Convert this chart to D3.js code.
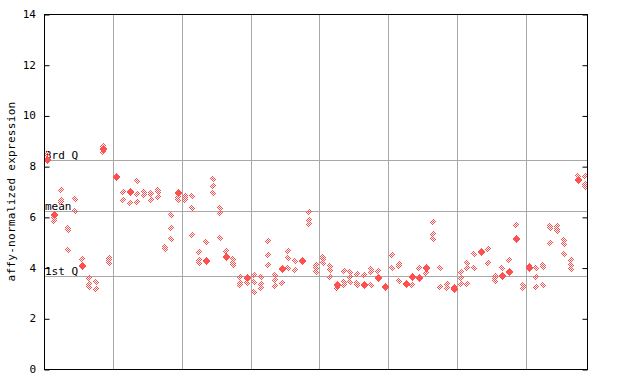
<!DOCTYPE html>
<html><head><meta charset="utf-8">
<script src="https://cdn.jsdelivr.net/npm/d3@7"></script>
<style>body{margin:0;background:#fff}svg{display:block}</style>
</head><body><svg id="c" width="640" height="384"></svg>
<script>
// one array of values per sample column (repeated values = coincident samples)
const sampleValues = [
  [8.47, 8.24, 8.24], [6.07, 6.07, 5.94, 5.83], [7.05, 6.65, 6.6], [5.55, 5.48, 4.69], [6.69, 6.23],
  [4.34, 4.07, 4.07], [3.6, 3.35, 3.22], [3.44, 3.15], [8.79, 8.66, 8.66, 8.57], [4.36, 4.28, 4.2],
  [7.58, 7.58, 7.52], [7.0, 6.66], [7.0, 7.0, 6.56], [7.4, 6.9, 6.57], [7.0, 6.85],
  [6.96, 6.9, 6.66], [7.06, 7.0, 6.77], [4.8, 4.72], [6.07, 5.55, 5.11], [6.95, 6.95, 6.8, 6.66],
  [6.82, 6.74, 6.66], [6.82, 6.33, 5.28], [4.6, 4.3, 4.19], [5.0, 4.27, 4.27], [7.48, 7.22, 6.96],
  [6.33, 6.16, 5.15], [4.67, 4.43, 4.43], [4.32, 4.2, 4.1], [3.61, 3.38, 3.31], [3.57, 3.57, 3.38],
  [3.7, 3.44, 3.02], [3.61, 3.35, 3.18], [5.05, 4.5, 4.1], [3.7, 3.5, 3.28], [3.94, 3.94, 3.38],
  [4.65, 4.36, 4.0], [4.26, 3.9], [4.27, 4.27], [6.18, 5.87, 5.72], [4.1, 3.97, 3.84],
  [4.4, 4.32, 4.19], [4.06, 3.9, 3.64], [3.31, 3.31, 3.18], [3.86, 3.42, 3.31], [3.84, 3.64, 3.42],
  [3.73, 3.38, 3.31], [3.7, 3.31, 3.31], [3.93, 3.84, 3.31], [3.88, 3.6, 3.6], [3.25, 3.25],
  [4.5, 3.97], [4.14, 4.06, 3.47], [3.34, 3.34], [3.64, 3.64, 3.31], [3.97, 3.57, 3.57],
  [3.97, 3.97, 3.77], [5.78, 5.32, 5.11], [3.97, 3.25], [3.34, 3.21], [3.25, 3.15, 3.15],
  [3.81, 3.57, 3.34], [4.2, 3.97, 3.34], [4.53, 3.97], [4.62, 4.62], [4.72, 4.17],
  [3.68, 3.57, 3.47], [3.97, 3.67, 3.67], [4.3, 3.84, 3.84], [5.67, 5.13, 5.13], [3.31, 3.18],
  [4.06, 3.97, 3.97], [3.97, 3.61, 3.22], [4.1, 4.04, 3.31], [5.65, 5.57, 4.96], [5.65, 5.52, 5.44],
  [5.09, 4.92, 4.53], [4.3, 4.1, 3.94], [7.62, 7.45, 7.45], [7.61, 7.28, 7.19]
];
const groupSize = 10;
const yTicks = [0, 2, 4, 6, 8, 10, 12, 14];
const refLines = [{label: "3rd Q", value: 8.23}, {label: "mean", value: 6.23}, {label: "1st Q", value: 3.65}];
const yTitle = "affy-normalized expression";

const svg = d3.select("#c");
const L = 44, R = 587, T = 14, B = 369;
const x = d3.scaleBand().domain(d3.range(sampleValues.length)).range([L, R + 1]);
const y = d3.scaleLinear().domain([0, 14]).range([B, T]);
const font = "'DejaVu Sans Mono', monospace";
const red = "#ff5050", grid = "#a8a8a8";

const defs = svg.append("defs");
const pat = defs.append("pattern").attr("id", "chk").attr("patternUnits", "userSpaceOnUse")
  .attr("width", 2).attr("height", 2);
pat.append("rect").attr("x", 0).attr("y", 0).attr("width", 1).attr("height", 1).attr("fill", red);
pat.append("rect").attr("x", 1).attr("y", 1).attr("width", 1).attr("height", 1).attr("fill", red);

// vertical group separators
const seps = d3.range(groupSize, sampleValues.length, groupSize);
svg.append("g").selectAll("line").data(seps).join("line")
  .attr("x1", d => Math.round(x(d)) + 0.5).attr("x2", d => Math.round(x(d)) + 0.5)
  .attr("y1", T).attr("y2", B).attr("stroke", grid).attr("stroke-width", 1);

// reference lines
svg.append("g").selectAll("line").data(refLines).join("line")
  .attr("x1", L).attr("x2", R).attr("y1", d => Math.round(y(d.value)) + 0.5).attr("y2", d => Math.round(y(d.value)) + 0.5)
  .attr("stroke", grid).attr("stroke-width", 1);
svg.append("g").selectAll("text").data(refLines).join("text")
  .attr("x", L + 1).attr("y", d => Math.round(y(d.value)) - 1)
  .attr("font-family", font).attr("font-size", 11).attr("fill", "#000").text(d => d.label);

// points: coincident samples overlap into a solid marker
const pts = [];
sampleValues.forEach((vals, i) => {
  const counts = d3.rollup(vals, g => g.length, v => v.toFixed(3));
  counts.forEach((n, k) => pts.push({i, v: +k, n}));
});
svg.append("g").selectAll("path").data(pts).join("path")
  .attr("d", d => {
    const cx = Math.round(x(d.i) + x.bandwidth() / 2), cy = Math.round(y(d.v));
    const r = d.n > 1 ? 4 : 3.5;
    return `M${cx},${cy - r}L${cx + r},${cy}L${cx},${cy + r}L${cx - r},${cy}Z`;
  })
  .attr("fill", d => d.n > 1 ? red : "url(#chk)").attr("shape-rendering", "crispEdges");

// frame
svg.append("rect").attr("x", L + 0.5).attr("y", T + 0.5).attr("width", R - L).attr("height", B - T)
  .attr("fill", "none").attr("stroke", "#000").attr("stroke-width", 1);

// axes with inward ticks
const yl = svg.append("g").attr("transform", `translate(${L + 0.5},0.5)`)
  .call(d3.axisRight(y).tickValues(yTicks).tickSize(5).tickFormat(""));
yl.select(".domain").remove();
const yr = svg.append("g").attr("transform", `translate(${R + 0.5},0.5)`)
  .call(d3.axisLeft(y).tickValues(yTicks).tickSize(5).tickFormat(""));
yr.select(".domain").remove();
svg.selectAll(".tick line").attr("stroke", "#000");

svg.append("g").selectAll("text").data(yTicks).join("text")
  .attr("x", 36).attr("y", d => y(d) + 4).attr("text-anchor", "end")
  .attr("font-family", font).attr("font-size", 11).attr("fill", "#000").text(d => d);

svg.append("text").attr("transform", `translate(15,${(T + B) / 2}) rotate(-90)`)
  .attr("text-anchor", "middle").attr("font-family", font).attr("font-size", 11).attr("fill", "#000")
  .attr("letter-spacing", 0.3).text(yTitle);
</script></body></html>
